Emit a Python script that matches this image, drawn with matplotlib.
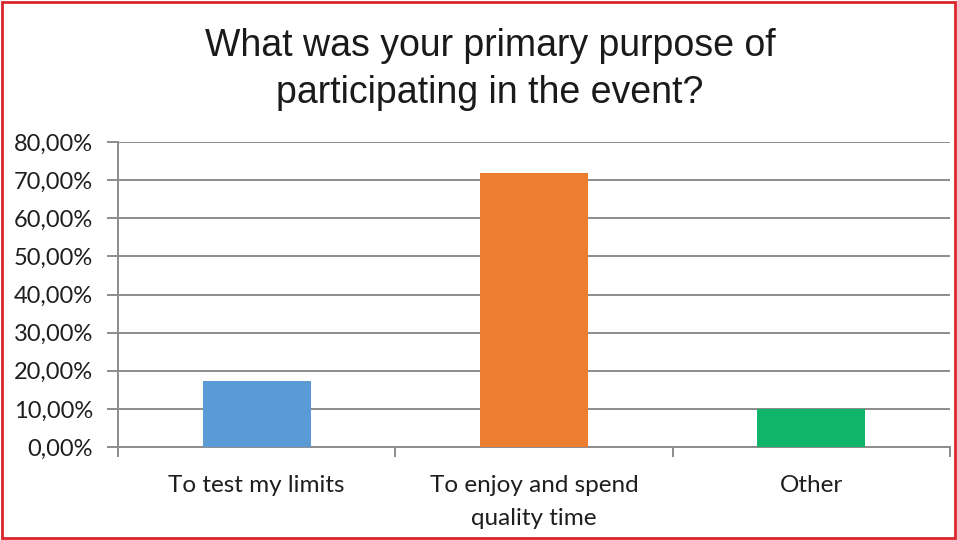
import matplotlib.pyplot as plt
from matplotlib.patches import Rectangle
from matplotlib.ticker import FuncFormatter, FixedLocator

# survey answers (share of respondents)
categorias = ['To test my limits', 'To enjoy and spend\nquality time', 'Other']
porcentajes = [17.2, 72.0, 10.0]
colores = ['#5B9BD5', '#ED7D31', '#10B46B']

fig = plt.figure(figsize=(9.57, 5.40), dpi=100)
ax = fig.add_axes([0.1233, 0.1722, 0.8694, 0.5648])

x = range(len(categorias))
ax.bar(x, porcentajes, width=0.39, color=colores, zorder=3)

ax.set_xlim(-0.5, 2.5)
ax.set_ylim(0, 80)
ax.set_yticks(range(0, 81, 10))
ax.yaxis.set_major_formatter(FuncFormatter(lambda v, p: f'{v:.2f}%'.replace('.', ',')))
ax.grid(axis='y', color='#8c8c8c', linewidth=1.4, zorder=0)

ax.set_xticks(list(x))
ax.set_xticklabels(categorias, fontsize=17.5, family='Lato', color='#1e1e1e', linespacing=1.7)
ax.xaxis.set_minor_locator(FixedLocator([-0.5, 0.5, 1.5, 2.5]))
ax.tick_params(axis='x', which='major', length=0, pad=20)
ax.tick_params(axis='x', which='minor', length=7, color='#8c8c8c', width=1.4)
ax.tick_params(axis='y', length=8, color='#8c8c8c', width=1.4, pad=10)
for lbl in ax.get_yticklabels():
    lbl.set_fontsize(17)
    lbl.set_family('Lato')
    lbl.set_color('#1e1e1e')

for lado in ['top', 'right']:
    ax.spines[lado].set_visible(False)
ax.spines['left'].set_color('#8c8c8c')
ax.spines['left'].set_linewidth(1.4)
ax.spines['bottom'].set_color('#8c8c8c')
ax.spines['bottom'].set_linewidth(1.4)

fig.text(0.512, 0.871, 'What was your primary purpose of\nparticipating in the event?',
         ha='center', va='center', fontsize=27, family='Liberation Sans',
         color='#1a1a1a', linespacing=1.4)

# red frame around the whole figure
fig.patches.append(Rectangle((0.002, 0.003), 0.996, 0.994, transform=fig.transFigure,
                             fill=False, edgecolor='#d9262c', linewidth=2))

fig.savefig('out.png', dpi=100)
